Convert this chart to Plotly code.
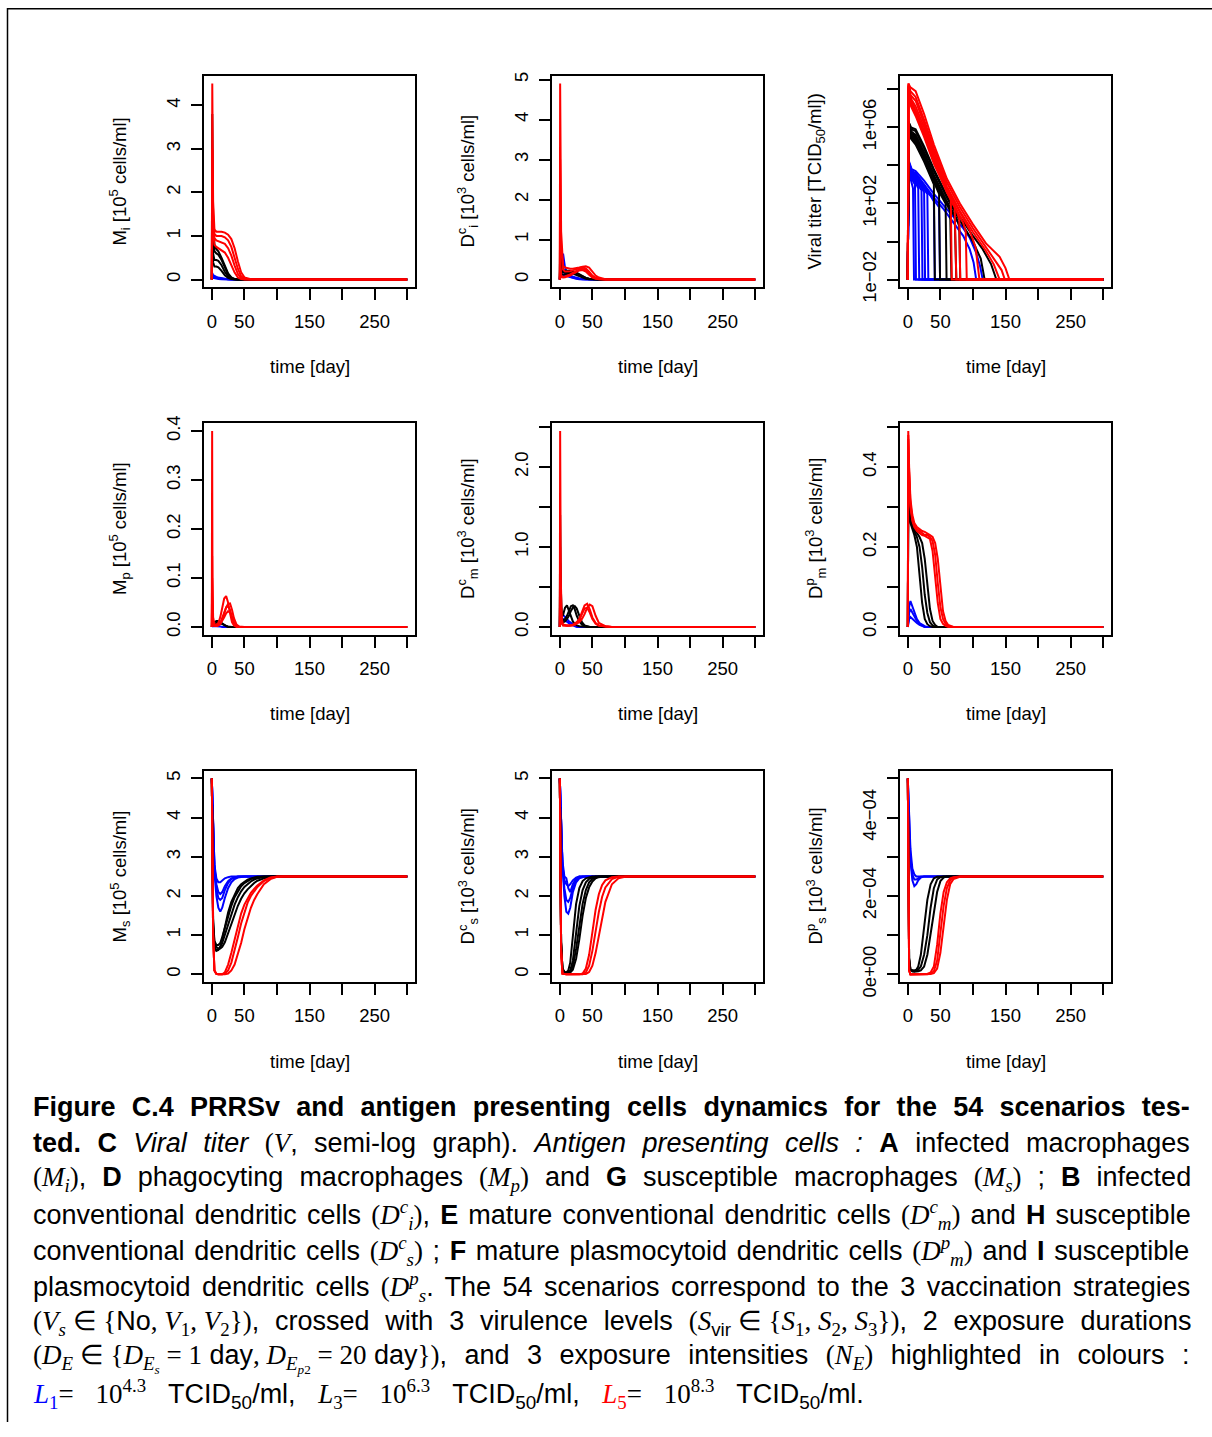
import plotly.graph_objects as go

# ---------------- data ----------------
X_TICKS = [0, 50, 100, 150, 200, 250, 300]
X_TICKTEXT = ["0", "50", "", "150", "", "250", ""]

# Panel A : infected macrophages Mi
A_T = [0, 0.7, 2, 4, 7, 10, 15, 20, 25, 30, 35, 40, 45, 50, 60, 80, 300]
A_RED = [
    [0, 4.5, 1.8, 1.15, 1.1, 1.1, 1.1, 1.08, 1.03, 0.93, 0.72, 0.42, 0.17, 0.05, 0.01, 0, 0],
    [0, 3.0, 1.5, 1.05, 1.0, 1.0, 1.0, 0.97, 0.9, 0.75, 0.5, 0.25, 0.08, 0.02, 0.005, 0, 0],
    [0, 2.4, 1.3, 0.95, 0.9, 0.88, 0.86, 0.82, 0.72, 0.55, 0.32, 0.13, 0.04, 0.01, 0, 0, 0],
    [0, 1.9, 1.1, 0.8, 0.75, 0.72, 0.68, 0.62, 0.5, 0.33, 0.16, 0.05, 0.015, 0, 0, 0, 0],
]
A_BLACK = [
    [0, 3.8, 1.4, 0.8, 0.7, 0.65, 0.5, 0.3, 0.14, 0.05, 0.015, 0, 0, 0, 0, 0, 0],
    [0, 2.0, 1.0, 0.65, 0.6, 0.57, 0.45, 0.27, 0.12, 0.04, 0.01, 0, 0, 0, 0, 0, 0],
    [0, 1.2, 0.6, 0.45, 0.45, 0.43, 0.33, 0.18, 0.07, 0.02, 0.005, 0, 0, 0, 0, 0, 0],
    [0, 0.8, 0.4, 0.3, 0.3, 0.28, 0.2, 0.1, 0.04, 0.01, 0, 0, 0, 0, 0, 0, 0],
]
A_BLUE = [
    [0, 0.15, 0.1, 0.08, 0.06, 0.05, 0.03, 0.015, 0.005, 0, 0, 0, 0, 0, 0, 0, 0],
    [0, 0.1, 0.07, 0.05, 0.04, 0.03, 0.02, 0.01, 0, 0, 0, 0, 0, 0, 0, 0, 0],
    [0, 0.05, 0.04, 0.03, 0.02, 0.015, 0.01, 0, 0, 0, 0, 0, 0, 0, 0, 0, 0],
]

# Panel B : infected conventional dendritic cells Dci
B_T = [0, 0.5, 2, 5, 8, 12, 16, 20, 25, 30, 35, 40, 45, 50, 55, 60, 70, 80, 300]
B_RED = [
    [0, 4.9, 1.2, 0.35, 0.3, 0.28, 0.27, 0.27, 0.28, 0.3, 0.32, 0.33, 0.3, 0.2, 0.1, 0.05, 0.01, 0, 0],
    [0, 3.0, 0.8, 0.25, 0.2, 0.2, 0.21, 0.23, 0.26, 0.29, 0.3, 0.28, 0.2, 0.1, 0.05, 0.02, 0, 0, 0],
    [0, 0.5, 0.1, 0.07, 0.08, 0.1, 0.13, 0.17, 0.22, 0.26, 0.27, 0.24, 0.15, 0.07, 0.03, 0.01, 0, 0, 0],
    [0, 0.3, 0.06, 0.05, 0.06, 0.08, 0.1, 0.14, 0.19, 0.23, 0.24, 0.2, 0.12, 0.05, 0.02, 0.01, 0, 0, 0],
]
B_BLACK = [
    [0, 1.5, 0.5, 0.25, 0.22, 0.22, 0.22, 0.2, 0.17, 0.12, 0.07, 0.04, 0.02, 0.01, 0, 0, 0, 0, 0],
    [0, 0.8, 0.3, 0.18, 0.17, 0.18, 0.19, 0.2, 0.18, 0.13, 0.08, 0.04, 0.02, 0.01, 0, 0, 0, 0, 0],
    [0, 0.4, 0.15, 0.12, 0.13, 0.15, 0.16, 0.15, 0.12, 0.08, 0.05, 0.02, 0.01, 0, 0, 0, 0, 0, 0],
]
B_BLUE = [
    [0, 0.2, 0.3, 0.65, 0.3, 0.15, 0.1, 0.07, 0.05, 0.03, 0.02, 0.01, 0, 0, 0, 0, 0, 0, 0],
    [0, 0.15, 0.15, 0.2, 0.15, 0.1, 0.07, 0.05, 0.03, 0.02, 0.01, 0, 0, 0, 0, 0, 0, 0, 0],
    [0, 0.1, 0.1, 0.12, 0.1, 0.08, 0.06, 0.04, 0.02, 0.01, 0, 0, 0, 0, 0, 0, 0, 0, 0],
]

# Panel C : viral titer, log10 values (floor at 1e-2)
C_RED_T = [
    [0, 1, 4, 12, 25, 40, 60, 80, 100, 120, 141, 150, 156, 300],
    [0, 1, 4, 12, 25, 40, 60, 80, 100, 120, 135, 144, 149, 300],
    [0, 1, 4, 12, 25, 40, 60, 80, 100, 120, 132, 141, 300],
    [0, 1, 5, 12, 25, 40, 60, 80, 95, 104, 110, 300],
    [0, 1, 5, 12, 25, 40, 60, 75, 85, 89, 90.5, 300],
    [0, 1, 5, 12, 25, 40, 60, 75, 79, 80.5, 300],
    [0, 1, 5, 12, 25, 40, 60, 72, 74.5, 300],
    [0, 1, 5, 12, 25, 40, 55, 66, 67.5, 300],
]
C_RED_LOG = [
    [-2, 8.3, 8.1, 7.9, 6.7, 5.1, 3.3, 2.0, 0.9, -0.1, -0.8, -1.4, -2, -2],
    [-2, 8.3, 7.9, 7.6, 6.4, 4.9, 3.1, 1.8, 0.7, -0.3, -1.0, -1.5, -2, -2],
    [-2, 8.2, 7.7, 7.4, 6.2, 4.7, 2.9, 1.6, 0.5, -0.5, -1.2, -2, -2],
    [-2, 8.2, 7.5, 7.1, 6.0, 4.5, 2.8, 1.5, 0.6, -0.3, -2, -2],
    [-2, 8.1, 7.4, 6.9, 5.8, 4.4, 2.7, 1.7, 1.0, 0.5, -2, -2],
    [-2, 8.1, 7.3, 6.8, 5.7, 4.3, 2.6, 1.6, 1.2, -2, -2],
    [-2, 8.0, 7.2, 6.7, 5.6, 4.2, 2.6, 1.8, -2, -2],
    [-2, 8.0, 7.1, 6.6, 5.5, 4.1, 3.0, 2.3, -2, -2],
]
C_BLACK_T = [
    [0, 1, 5, 12, 25, 40, 60, 80, 100, 115, 128, 136, 300],
    [0, 1, 5, 12, 25, 40, 60, 80, 100, 112, 118, 300],
    [0, 1, 5, 12, 25, 40, 60, 75, 79, 80.5, 300],
    [0, 1, 5, 12, 25, 40, 60, 72, 74.5, 300],
    [0, 1, 5, 12, 25, 40, 55, 65, 67, 300],
    [0, 1, 5, 12, 25, 40, 50, 58, 59.5, 300],
    [0, 1, 5, 12, 25, 40, 48, 49.5, 300],
    [0, 1, 5, 12, 25, 35, 40, 41.5, 300],
]
C_BLACK_LOG = [
    [-2, 6.3, 6.0, 5.9, 5.0, 3.8, 2.4, 1.3, 0.3, -0.4, -1.2, -2, -2],
    [-2, 6.3, 5.9, 5.8, 4.9, 3.7, 2.3, 1.1, 0.0, -0.9, -2, -2],
    [-2, 6.2, 5.8, 5.6, 4.7, 3.5, 2.1, 1.2, 0.8, -2, -2],
    [-2, 6.2, 5.7, 5.5, 4.6, 3.4, 2.0, 1.3, -2, -2],
    [-2, 6.1, 5.6, 5.4, 4.5, 3.3, 2.3, 1.6, -2, -2],
    [-2, 6.1, 5.6, 5.3, 4.4, 3.2, 2.5, 2.0, -2, -2],
    [-2, 6.0, 5.5, 5.2, 4.3, 3.1, 2.5, -2, -2],
    [-2, 6.0, 5.4, 5.1, 4.2, 3.4, 3.0, -2, -2],
]
C_BLUE_T = [
    [0, 1, 6, 12, 25, 40, 55, 70, 85, 95, 105, 111, 115, 300],
    [0, 1, 6, 12, 25, 40, 55, 70, 85, 95, 101, 105, 300],
    [0, 1, 6, 12, 25, 40, 48, 49.5, 300],
    [0, 1, 6, 12, 25, 35, 40, 41.5, 300],
    [0, 1, 6, 12, 22, 30, 31.5, 300],
    [0, 1, 6, 12, 20, 25, 26.5, 300],
    [0, 1, 6, 12, 18, 21, 22.5, 300],
    [0, 1, 6, 12, 16, 17.5, 300],
    [0, 1, 6, 11, 12.5, 300],
    [0, 1, 5, 8, 9.5, 300],
]
C_BLUE_LOG = [
    [-2, 4.3, 3.8, 3.7, 3.2, 2.5, 1.9, 1.3, 0.7, 0.2, -0.6, -1.3, -2, -2],
    [-2, 4.2, 3.7, 3.6, 3.0, 2.3, 1.7, 1.0, 0.3, -0.4, -1.1, -2, -2],
    [-2, 4.2, 3.7, 3.5, 2.9, 2.2, 1.8, -2, -2],
    [-2, 4.1, 3.6, 3.4, 2.8, 2.4, 2.1, -2, -2],
    [-2, 4.0, 3.5, 3.3, 2.9, 2.5, -2, -2],
    [-2, 4.0, 3.5, 3.3, 2.9, 2.6, -2, -2],
    [-2, 3.9, 3.5, 3.2, 2.9, 2.7, -2, -2],
    [-2, 3.9, 3.4, 3.1, 2.8, -2, -2],
    [-2, 3.8, 3.3, 3.0, -2, -2],
    [-2, 3.6, 3.2, 2.8, -2, -2],
]

# Panel D : phagocyting macrophages Mp
D_T = [0, 0.5, 1, 2, 4, 7, 10, 13, 16, 19, 22, 25, 28, 31, 34, 38, 42, 50, 300]
D_RED = [
    [0, 0.4, 0.1, 0.02, 0.005, 0.005, 0.008, 0.02, 0.04, 0.058, 0.063, 0.05, 0.028, 0.01, 0.003, 0, 0, 0, 0],
    [0, 0.145, 0.05, 0.01, 0.003, 0.003, 0.004, 0.008, 0.015, 0.027, 0.04, 0.047, 0.048, 0.035, 0.018, 0.005, 0.001, 0, 0],
    [0, 0.1, 0.03, 0.008, 0.002, 0.002, 0.004, 0.008, 0.018, 0.03, 0.04, 0.042, 0.035, 0.02, 0.008, 0.002, 0, 0, 0],
    [0, 0.06, 0.02, 0.005, 0.002, 0.002, 0.003, 0.006, 0.012, 0.02, 0.028, 0.032, 0.03, 0.02, 0.01, 0.003, 0, 0, 0],
]
D_BLACK = [
    [0, 0.02, 0.012, 0.01, 0.01, 0.012, 0.012, 0.01, 0.007, 0.004, 0.002, 0.001, 0, 0, 0, 0, 0, 0, 0],
    [0, 0.01, 0.008, 0.006, 0.006, 0.008, 0.009, 0.008, 0.006, 0.003, 0.001, 0, 0, 0, 0, 0, 0, 0, 0],
]
D_BLUE = [
    [0, 0.003, 0.003, 0.002, 0.002, 0.002, 0.001, 0.001, 0, 0, 0, 0, 0, 0, 0, 0, 0, 0, 0],
]

# Panel E : mature conventional dendritic cells Dcm
E_T = [0, 0.5, 1.5, 3, 5, 8, 11, 14, 17, 20, 23, 26, 30, 34, 38, 42, 46, 50, 55, 60, 70, 80, 300]
E_RED = [
    [0, 2.45, 0.6, 0.1, 0.03, 0.02, 0.02, 0.02, 0.02, 0.03, 0.04, 0.06, 0.1, 0.18, 0.27, 0.29, 0.22, 0.12, 0.05, 0.02, 0.005, 0, 0],
    [0, 1.0, 0.3, 0.06, 0.02, 0.02, 0.02, 0.02, 0.02, 0.02, 0.03, 0.04, 0.06, 0.1, 0.16, 0.24, 0.28, 0.26, 0.14, 0.05, 0.01, 0, 0],
    [0, 0.5, 0.15, 0.04, 0.02, 0.015, 0.015, 0.015, 0.02, 0.02, 0.03, 0.05, 0.09, 0.16, 0.23, 0.24, 0.18, 0.1, 0.04, 0.015, 0.005, 0, 0],
]
E_BLACK = [
    [0, 1.4, 0.5, 0.15, 0.15, 0.24, 0.27, 0.2, 0.12, 0.07, 0.04, 0.02, 0.01, 0.005, 0, 0, 0, 0, 0, 0, 0, 0, 0],
    [0, 0.8, 0.3, 0.1, 0.08, 0.1, 0.14, 0.2, 0.26, 0.27, 0.22, 0.14, 0.07, 0.03, 0.015, 0.005, 0, 0, 0, 0, 0, 0, 0],
    [0, 0.5, 0.2, 0.08, 0.06, 0.07, 0.1, 0.14, 0.2, 0.24, 0.26, 0.23, 0.14, 0.06, 0.02, 0.01, 0, 0, 0, 0, 0, 0, 0],
]
E_BLUE = [
    [0, 0.3, 0.2, 0.15, 0.15, 0.13, 0.1, 0.07, 0.05, 0.03, 0.02, 0.01, 0, 0, 0, 0, 0, 0, 0, 0, 0, 0, 0],
    [0, 0.2, 0.12, 0.1, 0.1, 0.08, 0.06, 0.04, 0.03, 0.02, 0.01, 0, 0, 0, 0, 0, 0, 0, 0, 0, 0, 0, 0],
]

# Panel F : mature plasmocytoid dendritic cells Dpm
F_T = [0, 0.7, 2, 4, 7, 10, 14, 18, 22, 26, 30, 34, 38, 42, 46, 50, 54, 58, 62, 70, 80, 300]
F_RED = [
    [0, 0.49, 0.4, 0.32, 0.28, 0.26, 0.25, 0.245, 0.24, 0.238, 0.235, 0.23, 0.225, 0.21, 0.17, 0.1, 0.04, 0.015, 0.005, 0, 0, 0],
    [0, 0.48, 0.39, 0.31, 0.27, 0.255, 0.245, 0.24, 0.235, 0.23, 0.23, 0.225, 0.215, 0.18, 0.11, 0.05, 0.02, 0.008, 0.002, 0, 0, 0],
    [0, 0.47, 0.38, 0.3, 0.265, 0.25, 0.24, 0.235, 0.23, 0.228, 0.225, 0.22, 0.19, 0.12, 0.06, 0.02, 0.008, 0.003, 0, 0, 0, 0],
]
F_BLACK = [
    [0, 0.33, 0.3, 0.27, 0.255, 0.245, 0.235, 0.225, 0.21, 0.17, 0.1, 0.045, 0.015, 0.005, 0, 0, 0, 0, 0, 0, 0, 0],
    [0, 0.32, 0.29, 0.265, 0.25, 0.24, 0.225, 0.2, 0.15, 0.08, 0.035, 0.012, 0.004, 0, 0, 0, 0, 0, 0, 0, 0, 0],
    [0, 0.31, 0.28, 0.26, 0.245, 0.23, 0.2, 0.13, 0.06, 0.02, 0.007, 0.002, 0, 0, 0, 0, 0, 0, 0, 0, 0, 0],
]
F_BLUE = [
    [0, 0.03, 0.05, 0.065, 0.05, 0.035, 0.02, 0.01, 0.005, 0.002, 0, 0, 0, 0, 0, 0, 0, 0, 0, 0, 0, 0],
    [0, 0.02, 0.035, 0.045, 0.035, 0.025, 0.015, 0.008, 0.003, 0, 0, 0, 0, 0, 0, 0, 0, 0, 0, 0, 0, 0],
    [0, 0.01, 0.02, 0.025, 0.02, 0.015, 0.01, 0.005, 0.002, 0, 0, 0, 0, 0, 0, 0, 0, 0, 0, 0, 0, 0],
]

# Panels G, H, I : susceptible cells
S_T = [0, 1, 2, 4, 7, 10, 13, 16, 20, 25, 30, 35, 40, 45, 50, 55, 60, 65, 70, 80, 90, 100, 110, 300]
G_RED = [
    [5, 3.0, 1.0, 0.1, 0.01, 0, 0, 0, 0.05, 0.25, 0.55, 0.9, 1.27, 1.55, 1.78, 1.95, 2.08, 2.18, 2.27, 2.4, 2.47, 2.5, 2.5, 2.5],
    [5, 3.0, 1.0, 0.1, 0.01, 0, 0, 0, 0.02, 0.1, 0.3, 0.6, 0.95, 1.3, 1.6, 1.83, 2.0, 2.13, 2.23, 2.38, 2.46, 2.49, 2.5, 2.5],
    [5, 3.0, 1.0, 0.1, 0.01, 0, 0, 0, 0, 0.02, 0.1, 0.25, 0.5, 0.8, 1.15, 1.45, 1.7, 1.9, 2.05, 2.3, 2.43, 2.49, 2.5, 2.5],
]
G_BLACK = [
    [5, 2.5, 1.2, 0.7, 0.6, 0.62, 0.72, 0.9, 1.2, 1.58, 1.85, 2.05, 2.2, 2.3, 2.37, 2.42, 2.45, 2.47, 2.49, 2.5, 2.5, 2.5, 2.5, 2.5],
    [5, 2.5, 1.2, 0.72, 0.62, 0.63, 0.68, 0.8, 1.0, 1.3, 1.55, 1.78, 1.97, 2.12, 2.23, 2.31, 2.37, 2.42, 2.45, 2.48, 2.5, 2.5, 2.5, 2.5],
    [5, 2.6, 1.3, 0.8, 0.7, 0.66, 0.66, 0.7, 0.82, 1.05, 1.3, 1.53, 1.75, 1.93, 2.07, 2.17, 2.26, 2.33, 2.39, 2.45, 2.48, 2.5, 2.5, 2.5],
    [5, 2.7, 1.4, 0.85, 0.75, 0.75, 0.8, 0.95, 1.18, 1.5, 1.75, 1.97, 2.13, 2.25, 2.33, 2.39, 2.43, 2.46, 2.48, 2.5, 2.5, 2.5, 2.5, 2.5],
]
G_BLUE = [
    [5, 4.3, 3.6, 2.6, 2.0, 1.7, 1.6, 1.7, 1.95, 2.2, 2.35, 2.43, 2.47, 2.49, 2.5, 2.5, 2.5, 2.5, 2.5, 2.5, 2.5, 2.5, 2.5, 2.5],
    [5, 4.3, 3.6, 2.7, 2.3, 2.1, 2.05, 2.1, 2.25, 2.38, 2.45, 2.48, 2.5, 2.5, 2.5, 2.5, 2.5, 2.5, 2.5, 2.5, 2.5, 2.5, 2.5, 2.5],
    [5, 4.3, 3.6, 2.8, 2.45, 2.35, 2.35, 2.4, 2.45, 2.48, 2.5, 2.5, 2.5, 2.5, 2.5, 2.5, 2.5, 2.5, 2.5, 2.5, 2.5, 2.5, 2.5, 2.5],
    [5, 4.3, 3.6, 2.8, 2.2, 1.95, 1.9, 1.95, 2.15, 2.33, 2.43, 2.47, 2.49, 2.5, 2.5, 2.5, 2.5, 2.5, 2.5, 2.5, 2.5, 2.5, 2.5, 2.5],
]
H_RED = [
    [5, 2.5, 0.6, 0.02, 0, 0, 0, 0, 0, 0, 0, 0.02, 0.15, 0.5, 1.1, 1.65, 2.05, 2.28, 2.4, 2.48, 2.5, 2.5, 2.5, 2.5],
    [5, 2.5, 0.6, 0.02, 0, 0, 0, 0, 0, 0, 0, 0, 0.05, 0.22, 0.6, 1.1, 1.6, 1.98, 2.22, 2.43, 2.49, 2.5, 2.5, 2.5],
    [5, 2.5, 0.6, 0.02, 0, 0, 0, 0, 0, 0, 0, 0, 0.01, 0.06, 0.22, 0.55, 1.0, 1.45, 1.85, 2.3, 2.45, 2.49, 2.5, 2.5],
]
H_BLACK = [
    [5, 2.5, 0.8, 0.15, 0.05, 0.05, 0.1, 0.3, 1.0, 1.8, 2.2, 2.38, 2.45, 2.48, 2.5, 2.5, 2.5, 2.5, 2.5, 2.5, 2.5, 2.5, 2.5, 2.5],
    [5, 2.5, 0.8, 0.15, 0.05, 0.04, 0.05, 0.1, 0.35, 1.05, 1.75, 2.15, 2.35, 2.44, 2.48, 2.5, 2.5, 2.5, 2.5, 2.5, 2.5, 2.5, 2.5, 2.5],
    [5, 2.5, 0.8, 0.15, 0.05, 0.04, 0.04, 0.05, 0.12, 0.4, 0.9, 1.5, 1.95, 2.22, 2.37, 2.45, 2.48, 2.5, 2.5, 2.5, 2.5, 2.5, 2.5, 2.5],
    [5, 2.5, 0.8, 0.15, 0.06, 0.05, 0.05, 0.07, 0.2, 0.65, 1.25, 1.8, 2.15, 2.35, 2.44, 2.48, 2.5, 2.5, 2.5, 2.5, 2.5, 2.5, 2.5, 2.5],
]
H_BLUE = [
    [5, 4.5, 3.8, 2.8, 2.0, 1.6, 1.55, 1.7, 2.1, 2.35, 2.45, 2.48, 2.5, 2.5, 2.5, 2.5, 2.5, 2.5, 2.5, 2.5, 2.5, 2.5, 2.5, 2.5],
    [5, 4.5, 3.8, 2.8, 2.2, 1.9, 1.85, 1.95, 2.2, 2.4, 2.47, 2.5, 2.5, 2.5, 2.5, 2.5, 2.5, 2.5, 2.5, 2.5, 2.5, 2.5, 2.5, 2.5],
    [5, 4.5, 3.8, 2.8, 2.4, 2.3, 2.25, 2.3, 2.4, 2.47, 2.5, 2.5, 2.5, 2.5, 2.5, 2.5, 2.5, 2.5, 2.5, 2.5, 2.5, 2.5, 2.5, 2.5],
    [5, 4.5, 3.8, 2.9, 2.5, 2.45, 2.2, 2.1, 2.3, 2.45, 2.5, 2.5, 2.5, 2.5, 2.5, 2.5, 2.5, 2.5, 2.5, 2.5, 2.5, 2.5, 2.5, 2.5],
]
# Panel I values in units of 1e-4
I_RED = [
    [5, 1.5, 0.1, 0, 0, 0, 0, 0, 0, 0, 0.01, 0.05, 0.2, 0.75, 1.55, 2.1, 2.35, 2.45, 2.48, 2.5, 2.5, 2.5, 2.5, 2.5],
    [5, 1.5, 0.1, 0, 0, 0, 0, 0, 0, 0, 0, 0.02, 0.08, 0.35, 1.0, 1.75, 2.2, 2.4, 2.47, 2.5, 2.5, 2.5, 2.5, 2.5],
    [5, 1.5, 0.1, 0, 0, 0, 0, 0, 0, 0, 0, 0.01, 0.03, 0.15, 0.55, 1.25, 1.9, 2.3, 2.43, 2.49, 2.5, 2.5, 2.5, 2.5],
]
I_BLACK = [
    [5, 1.8, 0.4, 0.12, 0.1, 0.1, 0.12, 0.2, 0.5, 1.2, 1.9, 2.3, 2.45, 2.49, 2.5, 2.5, 2.5, 2.5, 2.5, 2.5, 2.5, 2.5, 2.5, 2.5],
    [5, 1.8, 0.4, 0.12, 0.08, 0.08, 0.09, 0.12, 0.2, 0.5, 1.0, 1.7, 2.2, 2.42, 2.48, 2.5, 2.5, 2.5, 2.5, 2.5, 2.5, 2.5, 2.5, 2.5],
    [5, 1.8, 0.4, 0.12, 0.08, 0.07, 0.07, 0.08, 0.1, 0.2, 0.5, 1.0, 1.6, 2.1, 2.38, 2.47, 2.5, 2.5, 2.5, 2.5, 2.5, 2.5, 2.5, 2.5],
]
I_BLUE = [
    [5, 4.2, 3.6, 2.9, 2.4, 2.25, 2.3, 2.4, 2.47, 2.5, 2.5, 2.5, 2.5, 2.5, 2.5, 2.5, 2.5, 2.5, 2.5, 2.5, 2.5, 2.5, 2.5, 2.5],
    [5, 4.3, 3.7, 3.0, 2.55, 2.42, 2.42, 2.45, 2.49, 2.5, 2.5, 2.5, 2.5, 2.5, 2.5, 2.5, 2.5, 2.5, 2.5, 2.5, 2.5, 2.5, 2.5, 2.5],
    [5, 4.4, 3.9, 3.2, 2.7, 2.55, 2.5, 2.5, 2.5, 2.5, 2.5, 2.5, 2.5, 2.5, 2.5, 2.5, 2.5, 2.5, 2.5, 2.5, 2.5, 2.5, 2.5, 2.5],
]

Y_TITLES = [
    "M<sub>i</sub> [10<sup>5</sup> cells/ml]",
    "D<sup>c</sup><sub>i</sub> [10<sup>3</sup> cells/ml]",
    "Viral titer [TCID<sub>50</sub>/ml])",
    "M<sub>p</sub> [10<sup>5</sup> cells/ml]",
    "D<sup>c</sup><sub>m</sub> [10<sup>3</sup> cells/ml]",
    "D<sup>p</sup><sub>m</sub> [10<sup>3</sup> cells/ml]",
    "M<sub>s</sub> [10<sup>5</sup> cells/ml]",
    "D<sup>c</sup><sub>s</sub> [10<sup>3</sup> cells/ml]",
    "D<sup>p</sup><sub>s</sub> [10<sup>3</sup> cells/ml]",
]
Y_TICKS = [
    [0, 1, 2, 3, 4],
    [0, 1, 2, 3, 4, 5],
    [1e-2, 1, 1e2, 1e4, 1e6, 1e8],
    [0, 0.1, 0.2, 0.3, 0.4],
    [0, 0.5, 1.0, 1.5, 2.0, 2.5],
    [0, 0.1, 0.2, 0.3, 0.4, 0.5],
    [0, 1, 2, 3, 4, 5],
    [0, 1, 2, 3, 4, 5],
    [0, 1e-4, 2e-4, 3e-4, 4e-4, 5e-4],
]
Y_TICKTEXT = [
    ["0", "1", "2", "3", "4"],
    ["0", "1", "2", "3", "4", "5"],
    ["1e\u221202", "", "1e+02", "", "1e+06", ""],
    ["0.0", "0.1", "0.2", "0.3", "0.4"],
    ["0.0", "", "1.0", "", "2.0", ""],
    ["0.0", "", "0.2", "", "0.4", ""],
    ["0", "1", "2", "3", "4", "5"],
    ["0", "1", "2", "3", "4", "5"],
    ["0e+00", "", "2e\u221204", "", "4e\u221204", ""],
]
Y_RANGES = [
    [-0.18, 4.68], [-0.196, 5.096], [-2.412, 8.712],
    [-0.016, 0.416], [-0.098, 2.548], [-0.0196, 0.5096],
    [-0.2, 5.2], [-0.2, 5.2], [-0.2e-4, 5.2e-4],
]

# ---------------- layout geometry ----------------
W, H = 1212, 1437
FONT = "Liberation Sans"
CAP_SIZE = 27
COL_BOX = [(204, 415), (552, 763), (900, 1111)]
ROW_BOX = [(75, 287), (423, 635), (771, 983)]
COLORS = {"blue": "#0000ff", "black": "#000000", "red": "#ff0000"}
# the photographed page shows a small vertical offset/scale; compensate
Y_OFF, Y_SCALE = 7.1, 0.9857


def px(x):
    return x / W


def py(y):
    return 1 - ((y - Y_OFF) / Y_SCALE) / H


# ---------------- build curves per panel ----------------
def grid_curves(t, blue, black, red, scale=1.0):
    out = []
    for col, group in (("blue", blue), ("black", black), ("red", red)):
        for ys in group:
            out.append((col, t, [v * scale for v in ys]))
    return out


def log_curves(blue_t, blue_v, black_t, black_v, red_t, red_v):
    out = []
    for col, ts, vs in (("blue", blue_t, blue_v), ("black", black_t, black_v), ("red", red_t, red_v)):
        for t, v in zip(ts, vs):
            out.append((col, t, [10 ** x for x in v]))
    return out


PANEL_CURVES = [
    grid_curves(A_T, A_BLUE, A_BLACK, A_RED),
    grid_curves(B_T, B_BLUE, B_BLACK, B_RED),
    log_curves(C_BLUE_T, C_BLUE_LOG, C_BLACK_T, C_BLACK_LOG, C_RED_T, C_RED_LOG),
    grid_curves(D_T, D_BLUE, D_BLACK, D_RED),
    grid_curves(E_T, E_BLUE, E_BLACK, E_RED),
    grid_curves(F_T, F_BLUE, F_BLACK, F_RED),
    grid_curves(S_T, G_BLUE, G_BLACK, G_RED),
    grid_curves(S_T, H_BLUE, H_BLACK, H_RED),
    grid_curves(S_T, I_BLUE, I_BLACK, I_RED, scale=1e-4),
]

fig = go.Figure()
annotations = []
layout_axes = {}

for k in range(9):
    r, c = divmod(k, 3)
    x0, x1 = COL_BOX[c]
    y0, y1 = ROW_BOX[r]
    sfx = "" if k == 0 else str(k + 1)
    xa, ya = "x" + sfx, "y" + sfx
    for col, t, ys in PANEL_CURVES[k]:
        fig.add_trace(go.Scatter(x=t, y=ys, mode="lines", xaxis=xa, yaxis=ya,
                                 line=dict(color=COLORS[col], width=2),
                                 showlegend=False, hoverinfo="skip"))
    common = dict(ticks="outside", ticklen=11, tickwidth=2, tickcolor="black",
                  showline=True, linewidth=2, linecolor="black", mirror=True,
                  showgrid=False, zeroline=False, tickmode="array",
                  tickfont=dict(family=FONT, size=18.5, color="black"))
    layout_axes["xaxis" + sfx] = dict(domain=[px(x0), px(x1)], anchor=ya, range=[-12, 312],
                                      tickvals=X_TICKS, ticktext=X_TICKTEXT,
                                      ticklabelstandoff=5, **common)
    ydict = dict(domain=[py(y1), py(y0)], anchor=xa, range=Y_RANGES[k],
                 tickvals=Y_TICKS[k], ticktext=Y_TICKTEXT[k], tickangle=-90,
                 ticklabelstandoff=4, **common)
    if k == 2:
        ydict["type"] = "log"
    layout_axes["yaxis" + sfx] = ydict
    annotations.append(dict(text="time [day]", x=px((x0 + x1) / 2), y=py(y1 + 79),
                            xref="paper", yref="paper", showarrow=False,
                            xanchor="center", yanchor="middle",
                            font=dict(family=FONT, size=18.5, color="black")))
    annotations.append(dict(text=Y_TITLES[k], x=px(x0 - 84), y=py((y0 + y1) / 2),
                            xref="paper", yref="paper", showarrow=False, textangle=-90,
                            xanchor="center", yanchor="middle",
                            font=dict(family=FONT, size=18.5, color="black")))


# ---------------- caption ----------------
def it(s):
    return '<span style="font-family:Liberation Serif"><i>' + s + '</i></span>'


def rm(s):
    return '<span style="font-family:Liberation Serif">' + s + '</span>'


def var(base, sub=None, sup=None):
    out = it(base)
    if sup:
        out += "<sup>" + it(sup) + "</sup>"
    if sub:
        out += "<sub>" + it(sub) + "</sub>"
    return out


def ws(px_, s):
    return '<span style="word-spacing:' + str(px_) + 'px">' + s + '</span>'


ELEM = "\u2208"
CAPTION = [
    ws(8.75, "<b>Figure C.4 PRRSv and antigen presenting cells dynamics for the 54 scenarios tes-</b>"),
    ws(8.9, "<b>ted. C</b> <i>Viral titer</i> " + rm("(") + it("V")
       + ", semi-log graph). <i>Antigen presenting cells :</i> <b>A</b> infected macrophages"),
    ws(8.5, rm("(") + var("M", "i") + rm(")") + ", <b>D</b> phagocyting macrophages " + rm("(") + var("M", "p") + rm(")")
       + " and <b>G</b> susceptible macrophages " + rm("(") + var("M", "s") + rm(")") + " ; <b>B</b> infected"),
    ws(2.7, "conventional dendritic cells " + rm("(") + var("D", "i", "c") + rm(")")
       + ", <b>E</b> mature conventional dendritic cells " + rm("(") + var("D", "m", "c") + rm(")")
       + " and <b>H</b> susceptible"),
    ws(2.15, "conventional dendritic cells " + rm("(") + var("D", "s", "c") + rm(")")
       + " ; <b>F</b> mature plasmocytoid dendritic cells " + rm("(") + var("D", "m", "p") + rm(")")
       + " and <b>I</b> susceptible"),
    ws(3.9, "plasmocytoid dendritic cells " + rm("(") + var("D", "s", "p")
       + ". The 54 scenarios correspond to the 3 vaccination strategies"),
    rm("(") + var("V", "s") + rm(" " + ELEM + " {") + "No" + rm(", ") + it("V") + "<sub>" + rm("1") + "</sub>"
    + rm(", ") + it("V") + "<sub>" + rm("2") + "</sub>" + rm("})")
    + ws(8.3, ", crossed with 3 virulence levels ") + rm("(") + it("S") + "<sub>vir</sub>"
    + rm(" " + ELEM + " {") + it("S") + "<sub>" + rm("1") + "</sub>" + rm(", ") + it("S") + "<sub>" + rm("2")
    + "</sub>" + rm(", ") + it("S") + "<sub>" + rm("3") + "</sub>" + rm("})")
    + ws(8.3, ", 2 exposure durations"),
    rm("(") + it("D") + "<sub>" + it("E") + "</sub>" + rm(" " + ELEM + " {") + it("D") + "<sub>" + it("E")
    + "<sub>" + it("s") + "</sub></sub>" + rm(" = 1") + " day" + rm(", ") + it("D") + "<sub>" + it("E")
    + "<sub>" + it("p") + rm("2") + "</sub></sub>" + rm(" = 20") + " day" + rm("})")
    + ws(10.0, ", and 3 exposure intensities ") + rm("(") + it("N") + "<sub>" + it("E") + "</sub>" + rm(")")
    + ws(10.0, " highlighted in colours :"),
    ws(15, '<span style="color:#0000ff">' + it("L") + "<sub>" + rm("1") + "</sub></span>" + rm("= 10") + "<sup>"
       + rm("4.3") + "</sup> TCID<sub>50</sub>/ml, "
       + it("L") + "<sub>" + rm("3") + "</sub>" + rm("= 10") + "<sup>" + rm("6.3") + "</sup> TCID<sub>50</sub>/ml, "
       + '<span style="color:#ff0000">' + it("L") + "<sub>" + rm("5") + "</sub></span>" + rm("= 10") + "<sup>"
       + rm("8.3") + "</sup> TCID<sub>50</sub>/ml."),
]
CAPTION_Y = [1108, 1144, 1180, 1216, 1252, 1288, 1324, 1360, 1396]

for line, yy in zip(CAPTION, CAPTION_Y):
    annotations.append(dict(text=line, x=px(31), y=py(yy), xref="paper", yref="paper",
                            showarrow=False, xanchor="left", yanchor="middle",
                            font=dict(family=FONT, size=CAP_SIZE, color="black")))

# thin page frame (top and left edges)
shapes = [
    dict(type="line", xref="paper", yref="paper", x0=px(7), x1=1, y0=1 - 0.8 / H, y1=1 - 0.8 / H,
         line=dict(color="black", width=1.5)),
    dict(type="line", xref="paper", yref="paper", x0=px(7.5), x1=px(7.5), y0=1, y1=0,
         line=dict(color="black", width=1.5)),
]

fig.update_layout(width=W, height=H, margin=dict(l=0, r=0, t=0, b=0),
                  paper_bgcolor="white", plot_bgcolor="white",
                  annotations=annotations, shapes=shapes, **layout_axes)

fig.write_html("out.html", config={"displayModeBar": False},
               post_script="document.body.style.margin='0px';document.body.style.overflow='hidden';")
